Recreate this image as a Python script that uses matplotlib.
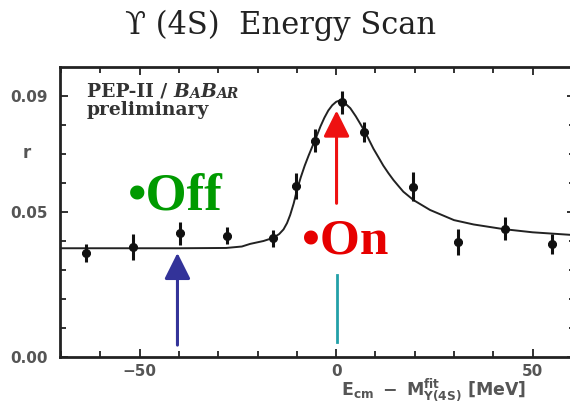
import matplotlib
matplotlib.use("Agg")
from matplotlib import pyplot as plt
from matplotlib.ticker import FixedLocator

# measured points (E_cm - M_fit in MeV, ratio r, error on r)
energy = [-63.6, -51.7, -39.7, -27.7, -16.0, -10.2, -5.3, 1.5, 7.2, 19.5, 31.1, 43.1, 54.9]
ratio = [0.0359, 0.0378, 0.0426, 0.0418, 0.0409, 0.0590, 0.0746, 0.0878, 0.0776, 0.0587,
         0.0398, 0.0442, 0.0389]
ratio_err = [0.0030, 0.0045, 0.0040, 0.0030, 0.0030, 0.0045, 0.0040, 0.0040, 0.0035,
             0.0050, 0.0045, 0.0040, 0.0035]

# fitted line
fit_energy = [-70.5, -40, -28, -24, -21.9, -18.5, -16, -14.5, -13.4, -12.5, -11.7, -10.8,
              -10.0, -9.0, -8.0, -7.0, -6.0, -5.3, -4.0, -3.0, -2.0, -1.0, 0.0, 1.0, 2.0,
              3.6, 5.0, 6.1, 7.4, 8.5, 9.5, 10.8, 12.0, 13.3, 14.6, 15.9, 17.1, 19.7,
              23.9, 30.0, 35.0, 42.6, 50.0, 61.0]
fit_ratio = [0.0375, 0.0375, 0.0376, 0.0381, 0.0390, 0.0400, 0.0411, 0.0424, 0.0440,
             0.0462, 0.0490, 0.0530, 0.0575, 0.0620, 0.0660, 0.0695, 0.0728, 0.0750,
             0.0795, 0.0825, 0.0850, 0.0868, 0.0880, 0.0885, 0.0878, 0.0858, 0.0830,
             0.0805, 0.0775, 0.0745, 0.0718, 0.0688, 0.0660, 0.0634, 0.0610, 0.0589,
             0.0570, 0.0541, 0.0507, 0.0472, 0.0457, 0.0441, 0.0430, 0.0420]

xticks_major = [-50, 0, 50]
xtick_labels = ["\u221250", "0", "50"]
xticks_minor = [-70, -60, -40, -30, -20, -10, 10, 20, 30, 40, 60]
yticks_major = [0.00, 0.05, 0.09]
ytick_labels = ["0.00", "0.05", "0.09"]
yticks_minor = [0.01, 0.02, 0.03, 0.04, 0.06, 0.07, 0.08]

off_energy = -40.4
on_energy = 0.1

serif = ["DejaVu Serif"]
times = ["Liberation Serif", "DejaVu Serif"]

fig = plt.figure(figsize=(5.7, 4.03), dpi=100)
ax = fig.add_axes([60 / 570, 46 / 403, 515 / 570, 290 / 403])

ax.plot(fit_energy, fit_ratio, color="#222222", lw=1.4, zorder=2)
ax.errorbar(energy, ratio, yerr=ratio_err, xerr=1.0, fmt="o", ms=5.5, color="#111111",
            elinewidth=2.2, capsize=0, zorder=3)

# arrows for the off / on resonance running points
ax.annotate("", xy=(off_energy, 0.0359), xytext=(off_energy, 0.0041),
            arrowprops=dict(arrowstyle="-|>,head_length=0.8,head_width=0.4",
                            mutation_scale=20, lw=2.2, color="#333399",
                            shrinkA=0, shrinkB=0))
ax.annotate("", xy=(on_energy, 0.0850), xytext=(on_energy, 0.0530),
            arrowprops=dict(arrowstyle="-|>,head_length=0.8,head_width=0.4",
                            mutation_scale=20, lw=2.2, color="#ee1111",
                            shrinkA=0, shrinkB=0))
ax.plot([on_energy, on_energy], [0.0053, 0.0283], color="#22a0a8", lw=2)

ax.text(-41, 0.0552, "\u2022Off", color="#009a00", fontsize=38, fontweight="bold",
        family=times, ha="center", va="center")
ax.text(2.3, 0.0400, "\u2022On", color="#e60000", fontsize=37, fontweight="bold",
        family=times, ha="center", va="center")

# PEP-II / BaBar with small caps
t = ax.text(0.052, 0.897, "PEP-II / ", transform=ax.transAxes, fontsize=13.5,
            fontweight="bold", family=serif, color="#333333", va="baseline")
for piece, size in [("B", 13.5), ("A", 10), ("B", 13.5), ("AR", 10)]:
    t = ax.annotate(piece, xy=(1, 0), xycoords=t, fontsize=size, family=serif,
                    style="italic", fontweight="bold", color="#333333",
                    va="bottom", ha="left")
ax.text(0.052, 0.852, "preliminary", transform=ax.transAxes, fontsize=13.5,
        fontweight="bold", family=serif, color="#333333", va="center")

ax.set_xlim(-70.3, 60.8)
ax.set_ylim(0, 0.1)
ax.xaxis.set_major_locator(FixedLocator(xticks_major))
ax.xaxis.set_minor_locator(FixedLocator(xticks_minor))
ax.yaxis.set_major_locator(FixedLocator(yticks_major))
ax.yaxis.set_minor_locator(FixedLocator(yticks_minor))
ax.set_yticklabels(ytick_labels)
ax.set_xticklabels(xtick_labels)
ax.tick_params(which="both", direction="in", top=True, right=True, width=1.3,
               colors="#222222", labelcolor="#555555", labelsize=11)
ax.tick_params(which="major", length=6)
ax.tick_params(which="minor", length=4)
ax.tick_params(axis="x", pad=5)
ax.tick_params(axis="y", pad=9)
for lab in ax.get_xticklabels() + ax.get_yticklabels():
    lab.set_fontweight("bold")
for sp in ax.spines.values():
    sp.set_linewidth(2)
    sp.set_color("#222222")

fig.text(0.492, 0.938, "\u03d2 (4S)  Energy Scan", family=serif, fontsize=22,
         ha="center", va="center", color="#222222")
fig.text(0.047, 0.62, "r", fontsize=12, fontweight="bold", color="#555555",
         ha="center", va="center")
fig.text(0.76, 0.034, "$\\mathbf{E_{cm}\\ -\\ M^{fit}_{\\Upsilon(4S)}}$ [MeV]",
         fontsize=12.5, fontweight="bold", color="#555555", ha="center", va="center")

fig.savefig("out.png", dpi=100)
